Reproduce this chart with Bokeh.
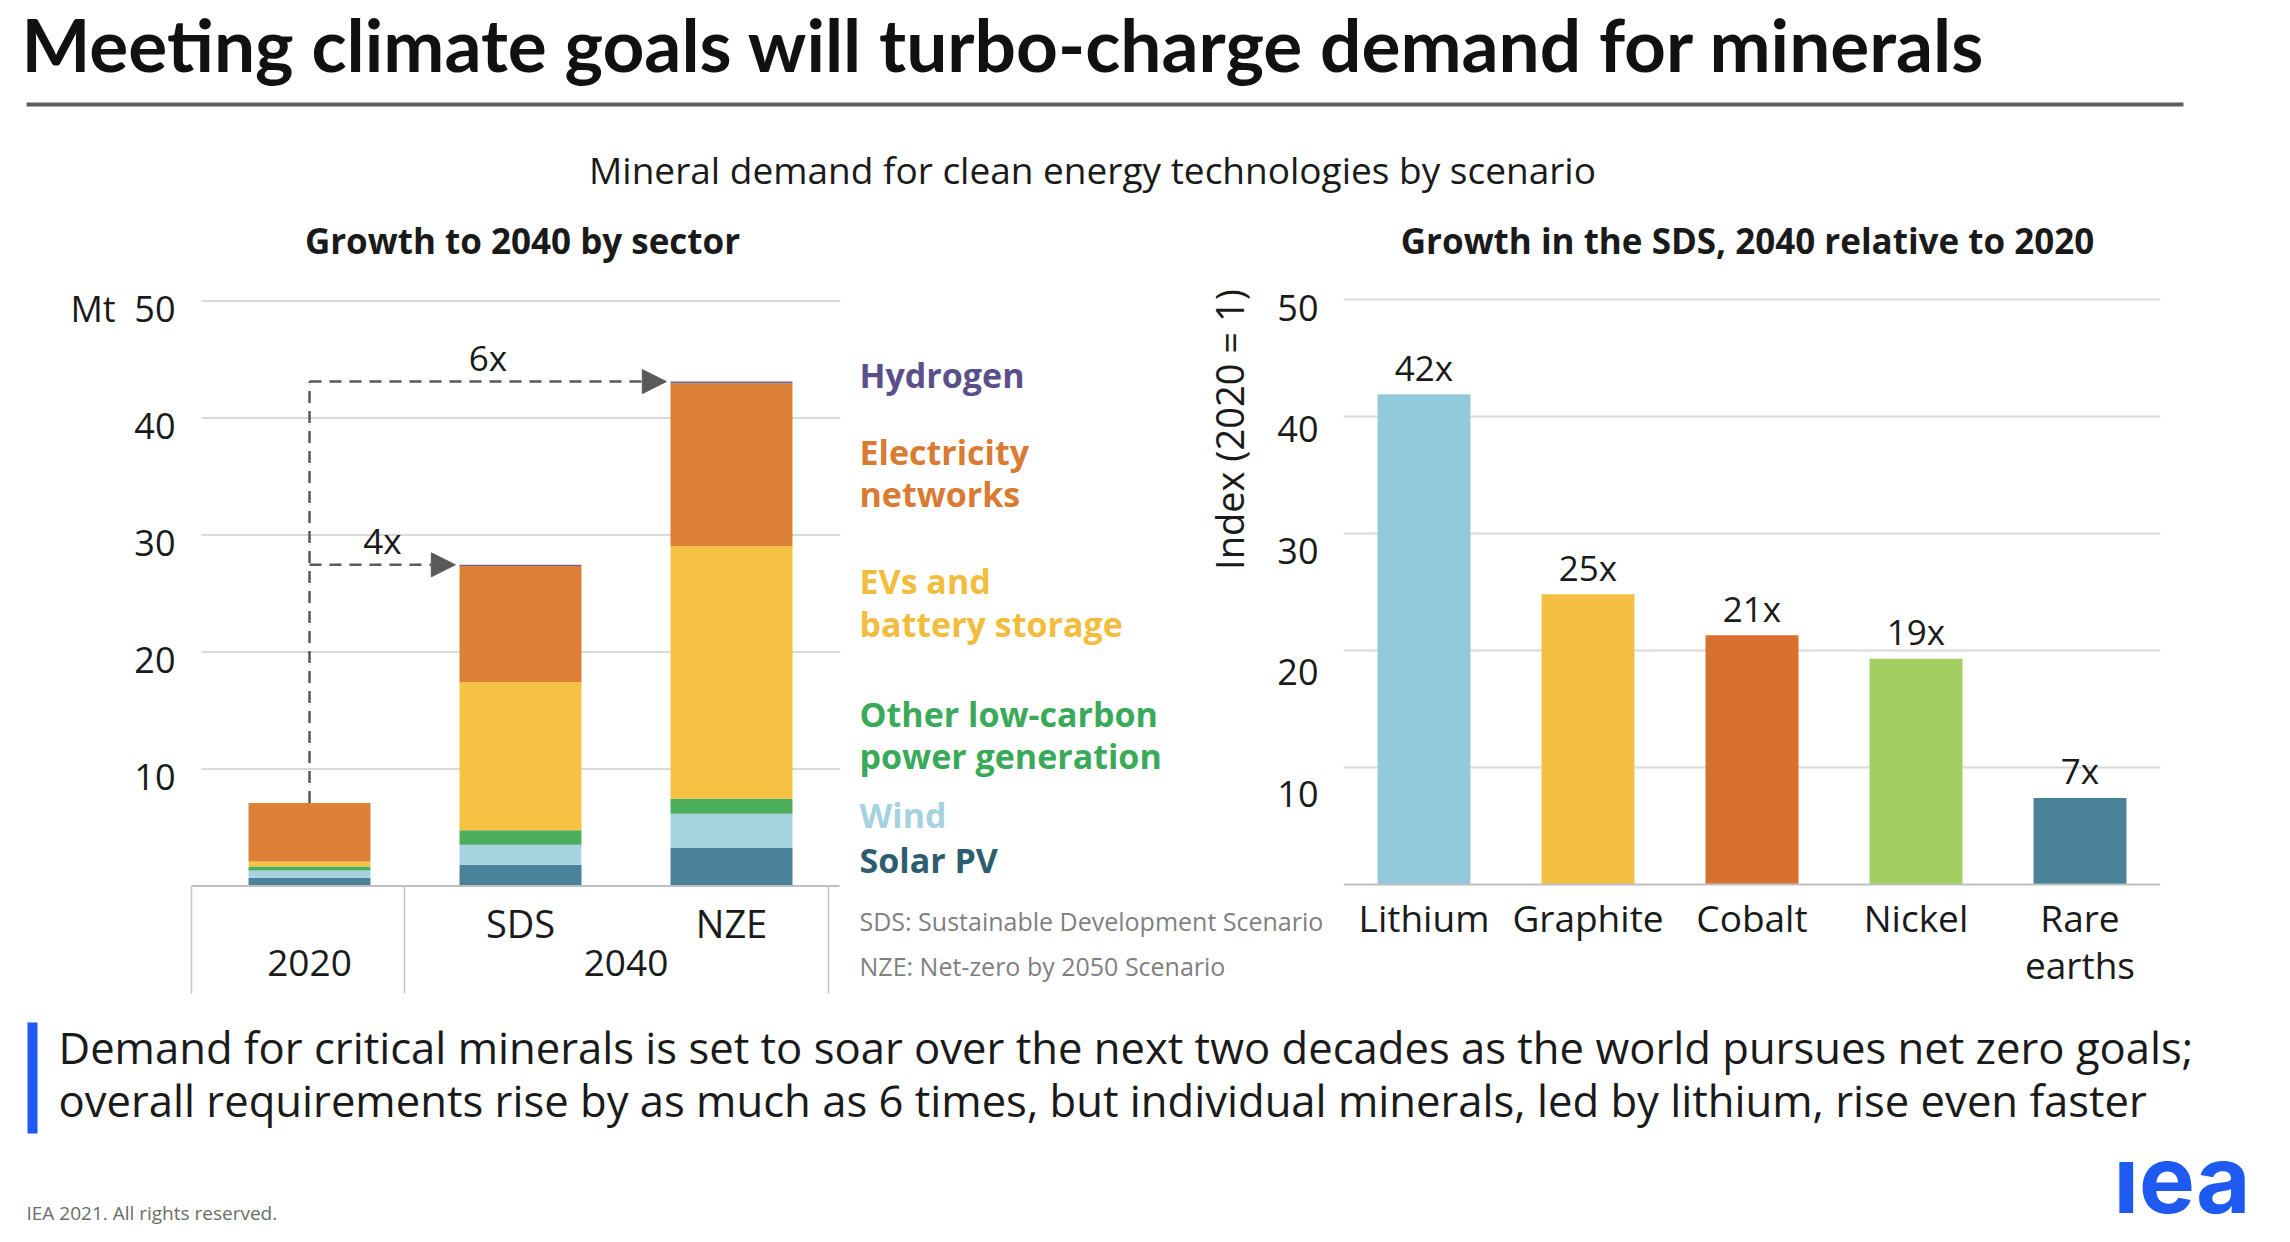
import math
from bokeh.plotting import figure
from bokeh.layouts import column, row
from bokeh.models import (Range1d, LinearAxis, FixedTicker, Label, Arrow, NormalHead,
                          ColumnDataSource, BoxAnnotation)
from bokeh.core.properties import value
from bokeh.embed import file_html
from bokeh.resources import INLINE

SANS = "Open Sans"
TITLE_FONT = "Lato"

# ---------------- data ----------------
periods = ["2020", "SDS", "NZE"]
period_groups = ["2020", "2040"]
sector_names = ["Solar PV", "Wind", "Other low-carbon\npower generation",
                "EVs and\nbattery storage", "Electricity\nnetworks", "Hydrogen"]
solar_pv = [0.70, 1.82, 3.25]
wind = [0.62, 1.71, 2.93]
other_low_carbon = [0.35, 1.23, 1.28]
evs_battery = [0.42, 12.68, 21.6]
electricity_networks = [5.0, 9.91, 13.9]
hydrogen = [0.0, 0.10, 0.15]
growth_multiples = ["4x", "6x"]          # SDS and NZE relative to 2020

minerals = ["Lithium", "Graphite", "Cobalt", "Nickel", "Rare\nearths"]
mineral_index = [41.9, 24.8, 21.3, 19.3, 7.4]
mineral_labels = ["42x", "25x", "21x", "19x", "7x"]

y_ticks = [10, 20, 30, 40, 50]

# ---------------- styles ----------------
sector_colors = ["#4a8399", "#a7d3e1", "#4cae5c", "#f5c244", "#dc7f37", "#6e6a8c"]
legend_colors = ["#2e5d6d", "#a6d2e0", "#3aa95a", "#f2bd3d", "#d97b33", "#5b4f8b"]
mineral_colors = ["#93cadb", "#f4c043", "#d8712e", "#a3cf62", "#4a8399"]
GRID = "#d9d9d9"
BASE = "#bfbfbf"
TXT = "#1a1a1a"

PAGE_W = 2282
HEAD_H = 275          # y 0..275
MID_TOP, MID_BOT = 275, 1010
FRAME_TOP = 290
SPLIT = 892           # right side: charts above, category labels / notes below
FOOT_H = 228          # y 1010..1238
SY = 11.7             # px per unit on the value axes


def make_fig(w, h, xr, yr, **kw):
    p = figure(width=w, height=h, x_range=xr, y_range=yr, x_axis_type=None, y_axis_type=None,
               output_backend="svg", toolbar_location=None, **kw)
    p.outline_line_color = None
    p.background_fill_color = "white"
    p.border_fill_color = "white"
    return p


def lab(p, x, y, text, size, color=TXT, bold=False, font=SANS, align="left",
        baseline="middle", angle=0.0):
    p.add_layout(Label(x=x, y=y, text=text, text_font=font, text_font_size=f"{size}px",
                       text_font_style="bold" if bold else "normal", text_color=color,
                       text_align=align, text_baseline=baseline, angle=angle))


def txt(p, x, y, text, size, **kw):
    p.text(x=x, y=y, text=text, text_align="center", text_baseline="middle",
           text_font=value(SANS), text_font_size=f"{size}px", text_color=TXT, **kw)


# ---------------- header ----------------
head = make_fig(PAGE_W, HEAD_H, Range1d(0, PAGE_W), Range1d(HEAD_H, 0), min_border=0)
lab(head, 21, 43, "Meeting climate goals will turbo-charge demand for minerals", 73,
    bold=True, font=TITLE_FONT, color="#111111")
head.add_layout(BoxAnnotation(left=26, right=2183, top=102, bottom=106,
                              fill_color="#5e5e5e", fill_alpha=1, line_color=None))
lab(head, 1092, 169, "Mineral demand for clean energy technologies by scenario", 37, align="center")
lab(head, 522, 240, "Growth to 2040 by sector", 35, bold=True, align="center")
lab(head, 1747, 240, "Growth in the SDS, 2040 relative to 2020", 35, bold=True, align="center")

# ---------------- left chart ----------------
L0X, LSX, L0Y = 309.0, 211.0, 885.5   # px of x=0, px per category, baseline px
left = make_fig(853, MID_BOT - MID_TOP,
                Range1d((185 - L0X) / LSX, (840 - L0X) / LSX),
                Range1d((L0Y - MID_BOT) / SY, (L0Y - FRAME_TOP) / SY),
                min_border_left=185, min_border_right=13, min_border_top=FRAME_TOP - MID_TOP,
                min_border_bottom=0)
dl = 7.0 / SY
left.extra_y_ranges = {"lab": Range1d(left.y_range.start + dl, left.y_range.end + dl)}
lax = LinearAxis(y_range_name="lab", ticker=FixedTicker(ticks=y_ticks),
                 axis_line_color=None, major_tick_line_color=None, minor_tick_line_color=None,
                 major_tick_out=0, major_tick_in=0, major_label_standoff=10,
                 major_label_text_font=SANS, major_label_text_font_size="36px",
                 major_label_text_color=TXT,
                 major_label_overrides={50: "Mt\u00a0\u00a050"})
left.add_layout(lax, "left")

gx0, gx1 = (201 - L0X) / LSX, (840 - L0X) / LSX
left.segment(x0=[gx0] * len(y_ticks), y0=y_ticks, x1=[gx1] * len(y_ticks), y1=y_ticks,
             line_color=GRID, line_width=2)

scen_x = list(range(len(periods)))
keys = ["solar", "wind", "other", "evs", "elec", "h2"]
src = ColumnDataSource(dict(x=scen_x, solar=solar_pv, wind=wind, other=other_low_carbon,
                            evs=evs_battery, elec=electricity_networks, h2=hydrogen))
BW = 0.578
left.vbar_stack(keys, x="x", width=BW, fill_color=sector_colors, line_color=None, source=src)

edge_l, edge_m, edge_r = (191 - L0X) / LSX, (404 - L0X) / LSX, (828 - L0X) / LSX
left.segment(x0=[edge_l], y0=[0], x1=[(839 - L0X) / LSX], y1=[0], line_color=BASE, line_width=2)
tab_bottom = (L0Y - 993) / SY
left.segment(x0=[edge_l, edge_m, edge_r], y0=[0, 0, 0], x1=[edge_l, edge_m, edge_r],
             y1=[tab_bottom] * 3, line_color="#c4c4c4", line_width=1.5)

totals = [sum(v) for v in zip(solar_pv, wind, other_low_carbon, evs_battery,
                              electricity_networks, hydrogen)]
ARROW = "#595959"
left.segment(x0=[scen_x[0]], y0=[totals[0]], x1=[scen_x[0]], y1=[totals[2]],
             line_color=ARROW, line_width=2.5, line_dash="12 8")
mid_x, mid_y = [], []
for i in (1, 2):
    tip = scen_x[i] - BW / 2 - 0.02
    left.add_layout(Arrow(x_start=scen_x[0], y_start=totals[i], x_end=tip, y_end=totals[i],
                          line_color=ARROW, line_width=2.5, line_dash="12 8",
                          end=NormalHead(size=24, fill_color=ARROW, line_color=ARROW)))
    mid_x.append((scen_x[0] + tip) / 2)
    mid_y.append(totals[i])
txt(left, mid_x, mid_y, growth_multiples, 35, y_offset=-24)

txt(left, scen_x[1:], [(L0Y - 922) / SY] * 2, periods[1:], 38)
txt(left, [scen_x[0], (scen_x[1] + scen_x[2]) / 2], [(L0Y - 962) / SY] * 2, period_groups, 37)

# ---------------- legend panel (between the charts) ----------------
LEG_X0, LEG_X1 = 853, 1262
leg = make_fig(LEG_X1 - LEG_X0, SPLIT - MID_TOP, Range1d(LEG_X0, LEG_X1),
               Range1d(SPLIT, FRAME_TOP), min_border=0, min_border_top=FRAME_TOP - MID_TOP)
legend_centers = [[859], [814], [713, 755], [580, 623], [451, 493], [374]]
for name, col, ys in zip(sector_names, legend_colors, legend_centers):
    for part, yc in zip(name.split("\n"), ys):
        lab(leg, 859, yc, part, 34, color=col, bold=True)
lab(leg, 1228, 429, "Index (2020 = 1)", 38, align="center", angle=math.pi / 2)

# ---------------- right chart ----------------
R0X, RSX, R0Y = 1423.5, 164.0, 884.0
right = make_fig(PAGE_W - LEG_X1, SPLIT - MID_TOP,
                 Range1d((1343 - R0X) / RSX, (2160 - R0X) / RSX),
                 Range1d((R0Y - SPLIT) / SY, (R0Y - FRAME_TOP) / SY),
                 min_border_left=1343 - LEG_X1, min_border_right=PAGE_W - 2160,
                 min_border_top=FRAME_TOP - MID_TOP, min_border_bottom=0)
lab_50, lab_10 = 307.0, 793.0
ppl = (lab_10 - lab_50) / 40.0
right.extra_y_ranges = {"lab": Range1d(10 - (SPLIT - lab_10) / ppl,
                                       50 + (lab_50 - FRAME_TOP) / ppl)}
rax = LinearAxis(y_range_name="lab", ticker=FixedTicker(ticks=y_ticks),
                 axis_line_color=None, major_tick_line_color=None, minor_tick_line_color=None,
                 major_tick_out=0, major_tick_in=0, major_label_standoff=25,
                 major_label_text_font=SANS, major_label_text_font_size="36px",
                 major_label_text_color=TXT)
right.add_layout(rax, "left")

rx0, rx1 = right.x_range.start, right.x_range.end
right.segment(x0=[rx0] * len(y_ticks), y0=y_ticks, x1=[rx1] * len(y_ticks), y1=y_ticks,
              line_color=GRID, line_width=2)
mx = list(range(len(minerals)))
right.vbar(x=mx, top=mineral_index, width=0.567, fill_color=mineral_colors, line_color=None)
right.segment(x0=[rx0], y0=[0], x1=[rx1], y1=[0], line_color=BASE, line_width=2)
txt(right, mx, mineral_index, mineral_labels, 35, y_offset=-27)

# ---------------- strip below right chart: category names + notes ----------------
strip = make_fig(PAGE_W - LEG_X0, MID_BOT - SPLIT,
                 Range1d((LEG_X0 - R0X) / RSX, (PAGE_W - R0X) / RSX),
                 Range1d(MID_BOT, SPLIT), min_border=0)
line1 = [m.split("\n")[0] for m in minerals]
line2 = [m.split("\n")[1] if "\n" in m else "" for m in minerals]
txt(strip, mx, [917] * len(mx), line1, 37)
txt(strip, mx, [964] * len(mx), line2, 37)
lab(strip, (859 - R0X) / RSX, 920, "SDS: Sustainable Development Scenario", 25, color="#7f7f7f")
lab(strip, (859 - R0X) / RSX, 965, "NZE: Net-zero by 2050 Scenario", 25, color="#7f7f7f")

# ---------------- footer ----------------
foot = make_fig(PAGE_W, FOOT_H, Range1d(0, PAGE_W), Range1d(MID_BOT + FOOT_H, MID_BOT),
                min_border=0)
foot.add_layout(BoxAnnotation(left=27, right=37, top=1022, bottom=1133,
                              fill_color="#1f5af0", fill_alpha=1, line_color=None))
lab(foot, 58, 1046, "Demand for critical minerals is set to soar over the next two decades as the "
                    "world pursues net zero goals;", 43.6)
lab(foot, 58, 1099, "overall requirements rise by as much as 6 times, but individual minerals, "
                    "led by lithium, rise even faster", 43.6)
lab(foot, 26, 1212, "IEA 2021. All rights reserved.", 19, color="#6b6b6b")
foot.text(x=[2113], y=[1178], text=["\u0131ea"], text_align="left", text_baseline="middle",
          text_font=value("Inter"), text_font_style="bold", text_font_size="94px",
          text_color="#1f5af0")

layout = column(head,
                row(left, column(row(leg, right, spacing=0), strip, spacing=0), spacing=0),
                foot, spacing=0)
open("out.html", "w").write(file_html(layout, INLINE))
